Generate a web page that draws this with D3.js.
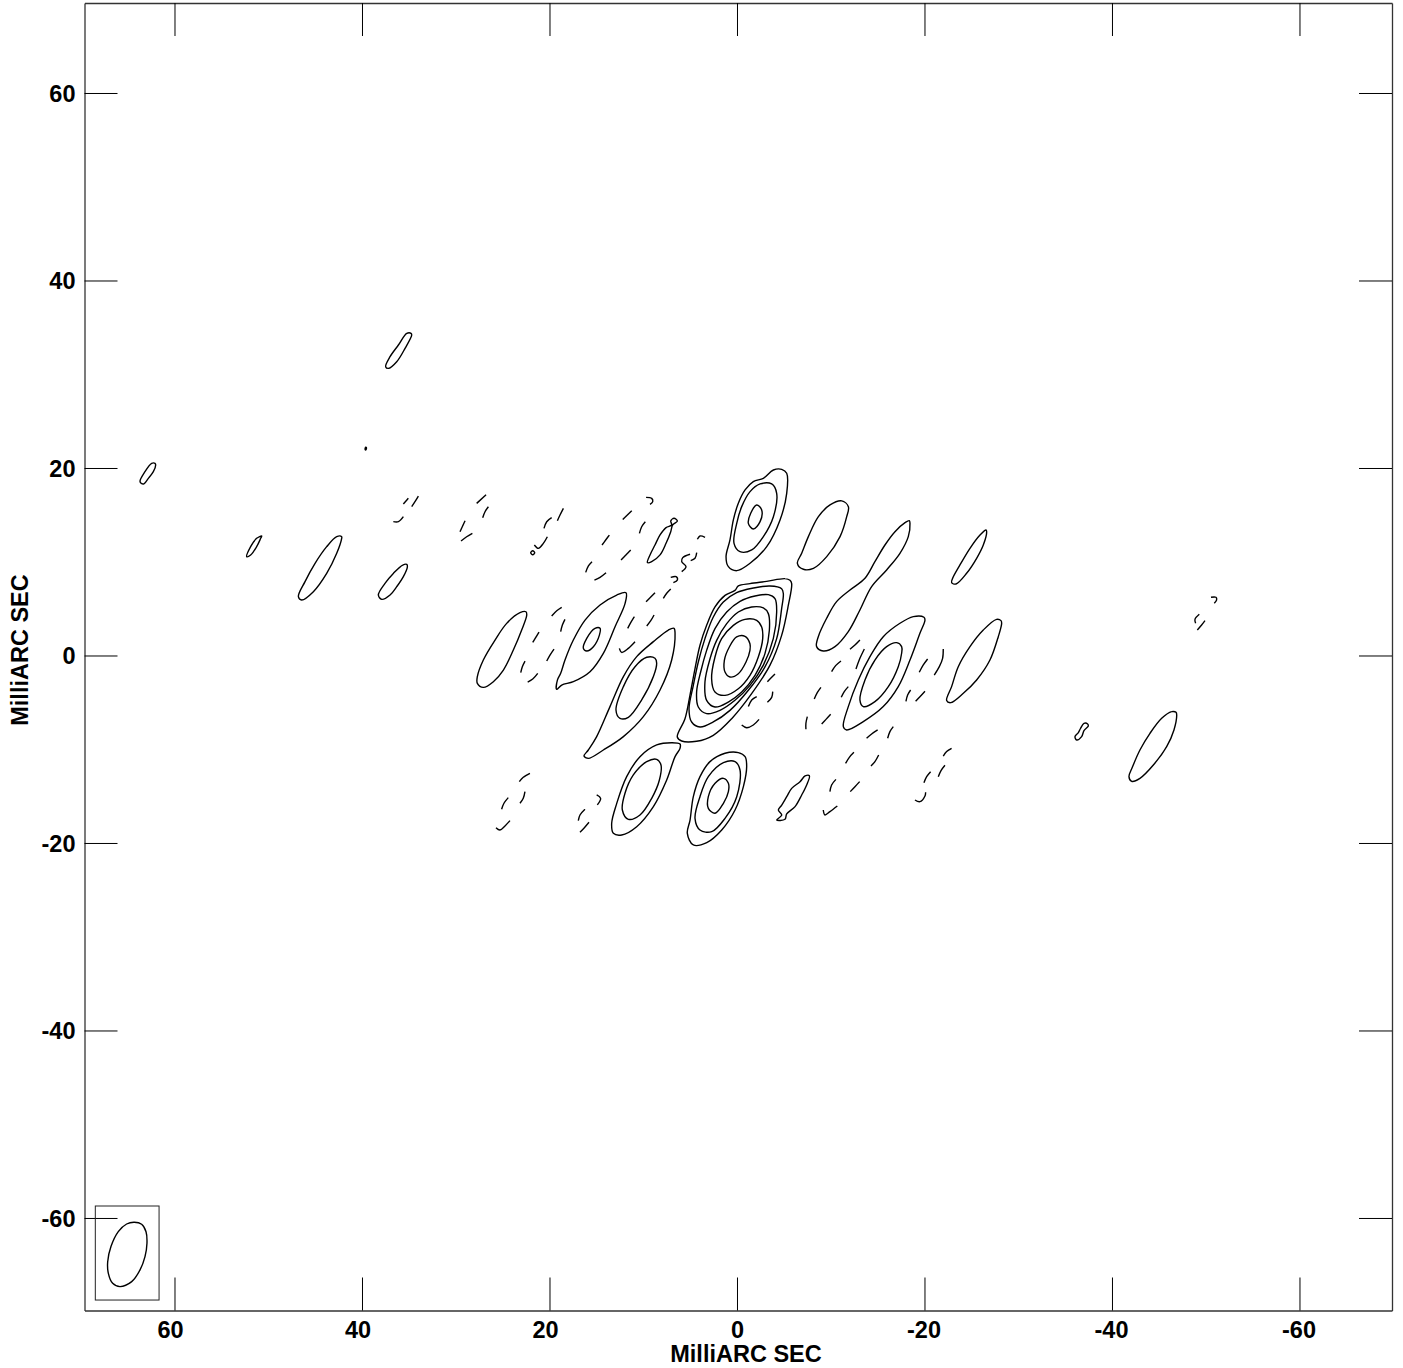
<!DOCTYPE html>
<html>
<head>
<meta charset="utf-8">
<title>MilliARC SEC contour map</title>
<script src="https://d3js.org/d3.v7.min.js"></script>
<style>
    html, body { margin: 0; padding: 0; background: #fff; }
    svg { display: block; }
    .contour { fill: none; stroke: #000; stroke-width: 1.4; stroke-linejoin: round; }
    .axis text, .axisLabel { font-family: "Liberation Sans", Arial, sans-serif; font-weight: bold; font-size: 23.5px; fill: #000; }
</style>
</head>
<body>
<div id="map"></div>
<script>
// Axis values (milliarcsec)
var xDomain = [69.6, -69.87];
var yDomain = [69.6, -69.87];
var tickValues = [60, 40, 20, 0, -20, -40, -60];
var tickLabels = ["60", "40", "20", "0", "-20", "-40", "-60"];
var axisTitle = "MilliARC SEC";

// Positive contours, closed rings of [x, y] in milliarcsec
var centralPeak = [
    [[-5.6,8.07],[-5.07,8.25],[-3.11,7.96],[-1.33,7.72],[-0.09,7.47],[0.27,7.0],[1.33,6.47],[2.4,5.23],[3.29,3.27],[4.0,1.14],[4.53,-1.35],[5.07,-4.2],[5.6,-6.69],[6.42,-8.64],[5.96,-9.07],[4.36,-9.1],[2.58,-8.46],[0.62,-6.69],[-1.51,-4.02],[-3.47,-0.98],[-4.71,2.2],[-5.42,5.4],[-5.78,7.72]],
    [[-4.71,7.18],[-3.47,7.47],[-1.69,7.25],[0.09,6.76],[1.51,5.76],[2.58,4.16],[3.47,1.85],[4.18,-0.64],[4.71,-3.13],[5.17,-5.62],[4.89,-7.04],[4.0,-7.58],[2.58,-7.04],[0.8,-5.8],[-1.16,-3.66],[-2.93,-1.17],[-4.18,1.85],[-4.71,5.05],[-4.89,6.65]],
    [[-4.0,6.12],[-3.29,6.54],[-1.87,6.4],[-0.27,5.83],[1.15,4.69],[2.4,2.92],[3.29,0.6],[3.93,-1.71],[4.36,-3.84],[4.18,-5.44],[3.29,-6.15],[1.87,-5.8],[0.27,-4.73],[-1.33,-3.13],[-2.76,-0.98],[-3.82,1.85],[-4.18,4.69]],
    [[-3.29,4.52],[-2.76,5.12],[-1.51,5.23],[-0.09,4.69],[1.15,3.45],[2.22,1.67],[2.93,-0.29],[3.47,-2.77],[3.29,-4.73],[2.4,-5.44],[0.98,-4.91],[-0.45,-3.84],[-1.87,-2.06],[-2.93,0.25],[-3.4,2.74]],
    [[-2.58,3.09],[-2.05,3.8],[-0.8,3.91],[0.44,3.27],[1.69,1.85],[2.4,-0.11],[2.76,-2.42],[2.4,-3.84],[1.33,-4.2],[-0.09,-3.49],[-1.33,-2.06],[-2.22,-0.11],[-2.69,1.85]],
    [[-1.33,1.31],[-0.8,2.1],[0.09,2.03],[0.87,0.96],[1.4,-0.46],[1.33,-1.71],[0.8,-2.24],[-0.09,-1.89],[-0.91,-0.64],[-1.33,0.6]]
];

var upperLobe = [
    [[-5.25,19.49],[-4.72,19.91],[-3.83,19.84],[-2.76,18.95],[-1.69,18.6],[-0.81,17.71],[-0.09,16.29],[0.44,14.51],[0.8,12.38],[1.22,10.6],[0.97,9.53],[0.08,9.1],[-1.34,9.89],[-3.12,11.66],[-4.54,14.51],[-5.25,17.35]],
    [[-4.18,17.35],[-3.65,18.35],[-2.41,18.35],[-1.34,17.53],[-0.45,15.93],[0.08,14.15],[0.37,12.02],[-0.27,11.13],[-1.52,11.31],[-2.76,12.73],[-3.83,14.86]],
    [[-2.58,15.58],[-2.05,16.11],[-1.41,15.22],[-1.16,14.15],[-1.69,13.55],[-2.41,14.33]]
];

var lowerLobes = [
    [[6.13,-9.39],[7.02,-9.25],[8.62,-9.49],[10.4,-10.74],[11.82,-12.87],[12.88,-15.72],[13.42,-17.85],[13.24,-18.92],[12.35,-19.1],[10.75,-18.21],[8.97,-16.07],[7.55,-13.23],[6.66,-10.74],[6.13,-9.85]],
    [[8.16,-11.63],[8.62,-11.02],[9.68,-11.27],[11.11,-12.69],[12.0,-14.65],[12.28,-16.43],[11.64,-17.42],[10.4,-16.96],[9.15,-15.18],[8.33,-13.23]],
    [[-0.81,-10.74],[-0.09,-10.31],[1.33,-10.38],[2.93,-11.27],[4.0,-12.87],[4.71,-15.01],[5.06,-17.5],[5.35,-18.92],[4.71,-20.16],[3.28,-19.91],[1.68,-18.56],[0.26,-16.43],[-0.63,-13.94],[-0.98,-11.8]],
    [[-0.27,-12.16],[0.26,-11.27],[1.5,-11.38],[3.11,-12.87],[4.0,-15.01],[4.53,-17.32],[4.0,-18.56],[2.75,-18.74],[1.33,-17.32],[0.08,-15.01]],
    [[0.97,-13.58],[1.5,-13.05],[2.39,-13.58],[3.11,-15.01],[3.11,-16.25],[2.39,-16.78],[1.5,-15.72],[0.97,-14.47]]
];

var leftLobes = [
    [[6.77,2.95],[7.37,2.77],[8.97,1.53],[10.75,-0.07],[12.17,-2.2],[13.6,-5.4],[15.02,-8.6],[15.91,-10.03],[16.37,-10.67],[15.91,-10.92],[14.31,-10.03],[12.17,-8.6],[10.04,-6.47],[8.26,-3.63],[7.02,-0.43],[6.66,2.42]],
    [[8.8,-0.25],[9.68,-0.14],[10.93,-1.14],[12.17,-3.27],[12.96,-5.76],[12.53,-6.65],[11.64,-6.54],[10.22,-4.69],[8.97,-2.2],[8.62,-0.78]],
    [[11.89,6.75],[12.88,6.5],[14.66,5.44],[16.26,3.83],[17.51,1.7],[18.4,-0.43],[18.86,-1.85],[19.21,-2.57],[19.29,-3.56],[18.75,-3.1],[17.51,-2.74],[15.73,-1.68],[14.31,0.28],[13.06,3.12],[11.99,5.61]],
    [[14.66,2.95],[15.2,2.95],[16.08,1.88],[16.44,0.81],[16.08,0.53],[15.37,0.99],[14.73,2.23]],
    [[22.56,4.72],[23.2,4.62],[24.62,3.48],[25.86,1.7],[27.11,-0.43],[27.75,-2.21],[27.75,-2.92],[27.11,-3.35],[26.04,-2.74],[24.97,-1.5],[23.91,0.63],[23.02,2.77],[22.48,4.37]],
    [[6.41,14.4],[6.77,14.69],[7.12,14.4],[7.02,13.98],[7.62,13.69],[8.26,12.91],[8.8,11.84],[9.33,10.78],[9.61,9.96],[9.15,10.06],[8.26,10.78],[7.62,12.02],[7.12,13.26],[6.91,13.98]]
];

var rightLobes = [
    [[-11.83,15.93],[-11.12,16.54],[-9.87,16.11],[-8.63,14.86],[-7.56,12.73],[-6.85,10.95],[-6.39,9.89],[-7.03,9.25],[-8.1,9.35],[-9.52,10.6],[-10.94,12.73],[-11.65,14.86]],
    [[-18.33,14.44],[-17.87,14.22],[-16.8,13.26],[-15.73,11.84],[-14.66,10.06],[-13.6,8.29],[-12.0,7.04],[-10.57,5.8],[-9.51,4.02],[-8.62,2.06],[-8.44,1.0],[-9.15,0.53],[-10.4,1.0],[-11.82,2.6],[-13.06,4.91],[-14.31,7.4],[-15.91,9.18],[-17.33,10.95],[-18.22,12.73],[-18.4,14.15]],
    [[-26.51,13.44],[-25.87,12.91],[-24.8,11.49],[-23.73,9.71],[-22.95,8.29],[-22.84,7.82],[-23.31,7.68],[-24.44,8.82],[-25.51,10.42],[-26.22,11.84],[-26.58,13.26]],
    [[-19.89,4.13],[-18.75,4.2],[-17.33,3.49],[-15.55,2.06],[-14.13,-0.07],[-12.89,-2.56],[-11.82,-5.4],[-11.29,-7.54],[-11.64,-7.89],[-13.42,-7.0],[-15.55,-5.4],[-17.15,-3.27],[-18.4,-0.43],[-19.46,2.42],[-20.0,3.84]],
    [[-17.51,1.0],[-16.98,1.42],[-15.91,1.0],[-14.66,-0.43],[-13.6,-2.56],[-13.06,-4.69],[-13.42,-5.4],[-14.66,-4.87],[-16.09,-3.27],[-17.15,-1.14],[-17.51,0.29]],
    [[-28.11,3.77],[-27.64,3.91],[-26.22,2.77],[-24.8,1.0],[-23.55,-1.14],[-22.84,-3.27],[-22.31,-4.76],[-22.74,-4.98],[-24.09,-3.98],[-25.51,-2.56],[-26.93,-0.43],[-27.82,2.06],[-28.18,3.49]],
    [[-7.67,-12.77],[-7.21,-12.8],[-6.67,-13.41],[-5.78,-14.12],[-5.25,-15.01],[-4.72,-15.9],[-4.36,-16.43],[-4.72,-16.96],[-4.18,-17.5],[-5.07,-17.42],[-5.25,-16.85],[-6.14,-16.07],[-6.85,-14.83],[-7.38,-13.76]]
];

var outerLobes = [
    [[34.82,34.42],[35.28,34.42],[36.17,33.17],[37.06,31.93],[37.53,30.86],[37.24,30.68],[36.35,31.39],[35.46,32.82],[34.75,34.24]],
    [[39.72,22.02],[39.66,22.28],[39.58,22.22],[39.64,21.98]],
    [[62.13,20.55],[62.49,20.55],[63.2,19.66],[63.73,18.59],[63.38,18.35],[62.84,18.95],[62.31,19.66],[62.06,20.37]],
    [[50.75,12.8],[51.29,12.55],[51.93,11.66],[52.35,10.59],[51.93,10.77],[51.29,11.66],[50.86,12.55]],
    [[42.22,12.73],[42.75,12.73],[43.82,11.66],[45.06,9.88],[46.13,7.93],[46.84,6.32],[46.49,5.97],[45.24,6.86],[43.82,8.81],[42.75,10.95],[42.22,12.55]],
    [[35.28,9.77],[35.71,9.7],[36.71,8.81],[37.6,7.75],[38.31,6.5],[37.95,6.04],[37.06,6.5],[36.35,7.39],[35.64,8.46],[35.21,9.52]],
    [[22.06,11.02],[21.84,11.23],[21.63,11.02],[21.84,10.8]],
    [[-46.78,-6.01],[-46.31,-5.94],[-45.25,-6.65],[-44.0,-8.25],[-42.93,-10.03],[-42.15,-11.8],[-41.76,-12.87],[-42.05,-13.37],[-42.93,-13.05],[-44.36,-11.63],[-45.78,-9.67],[-46.56,-7.89],[-46.85,-6.29]],
    [[-37.35,-7.25],[-36.96,-7.18],[-36.6,-7.71],[-36.36,-8.18],[-36.0,-8.6],[-36.18,-8.96],[-36.71,-8.6],[-36.96,-7.96],[-37.42,-7.47]]
];

// Negative contours, short open dashes
var dashesLeft = [
    [[27.82,16.28],[26.82,17.2]],
    [[27.18,14.75],[26.93,15.39],[26.57,15.92]],
    [[29.6,13.26],[29.06,14.43]],
    [[29.49,12.26],[28.89,12.72],[28.28,13.08]],
    [[21.67,11.84],[21.24,11.48],[20.71,12.01],[20.28,12.72]],
    [[20.64,13.61],[20.35,14.32],[19.82,14.75]],
    [[19.21,14.43],[18.93,15.04],[18.57,15.75]],
    [[12.24,14.57],[11.28,15.5]],
    [[10.46,13.08],[10.22,13.79],[9.83,14.32]],
    [[9.75,16.92],[9.15,16.81],[9.04,16.46],[9.33,16.17]],
    [[14.45,11.84],[14.06,12.37],[13.67,12.9]],
    [[12.42,10.24],[11.39,11.3]],
    [[16.19,8.92],[15.9,9.6],[15.52,10.06]],
    [[15.26,8.1],[14.66,8.39],[14.02,8.88]],
    [[19.82,4.26],[19.28,4.83],[18.75,5.19]],
    [[18.86,2.59],[18.68,3.3],[18.4,3.91]],
    [[21.84,1.45],[21.17,2.55]],
    [[20.35,-0.54],[20.0,0.1],[19.57,0.74]],
    [[23.12,-1.78],[22.95,-1.14],[22.66,-0.54]],
    [[22.38,-2.78],[21.84,-2.46],[21.31,-1.85]],
    [[9.75,5.79],[8.8,6.75]],
    [[11.71,2.95],[11.39,3.55],[11.0,4.19]],
    [[9.68,3.2],[9.25,3.76],[8.9,4.37]],
    [[12.6,0.81],[12.35,0.38],[11.64,0.81],[10.93,1.52]],
    [[5.06,10.85],[5.84,10.49],[5.95,10.06],[5.49,9.53],[5.95,9.0]],
    [[4.99,10.17],[4.53,10.42],[4.35,11.02]],
    [[4.28,12.45],[4.0,12.8],[3.46,12.66]],
    [[7.12,8.39],[6.55,8.46],[6.41,8.11],[6.84,7.82]],
    [[7.91,6.15],[7.55,6.69],[7.12,7.15]],
    [[35.64,16.21],[35.11,16.82]],
    [[34.75,15.93],[34.4,16.46],[34.04,17.06]],
    [[36.71,14.33],[36.17,14.33],[35.64,14.86]],
    [[23.27,-13.4],[22.85,-12.94],[22.14,-12.51]],
    [[23.2,-15.71],[22.85,-15.18],[22.67,-14.47]],
    [[25.16,-16.35],[24.91,-15.71],[24.45,-15.11]],
    [[25.76,-18.31],[25.34,-18.56],[24.8,-18.13],[24.27,-17.56]],
    [[16.98,-17.56],[16.8,-16.96],[16.27,-16.35]],
    [[16.8,-18.81],[16.38,-18.38],[15.84,-17.74]],
    [[15.02,-14.82],[14.6,-15.18],[14.95,-15.89]]
];

var dashesRight = [
    [[-3.19,-2.74],[-3.54,-2.38],[-4.0,-1.92]],
    [[-1.16,-5.4],[-1.52,-4.69],[-2.05,-4.34]],
    [[-3.19,-4.94],[-3.65,-4.41],[-3.76,-3.8]],
    [[-0.45,-7.36],[-0.98,-7.65],[-1.69,-7.36],[-2.3,-6.76]],
    [[-12.0,0.71],[-12.53,1.17],[-13.06,1.71]],
    [[-12.64,-1.39],[-13.06,-0.25],[-13.53,0.75]],
    [[-10.04,-1.67],[-10.47,-1.03],[-11.04,-0.53]],
    [[-8.19,-4.59],[-8.51,-3.91],[-8.9,-3.34]],
    [[-11.07,-4.41],[-11.39,-3.8],[-11.82,-3.27]],
    [[-7.3,-7.82],[-7.3,-7.18],[-7.45,-6.47]],
    [[-8.98,-7.25],[-9.44,-6.76],[-9.94,-6.22]],
    [[-19.39,-1.74],[-19.82,-0.96],[-20.28,-0.32]],
    [[-20.99,-2.03],[-21.53,-1.14],[-21.88,-0.25],[-21.95,0.75]],
    [[-17.97,-4.83],[-18.15,-4.16],[-18.47,-3.63]],
    [[-19.0,-4.83],[-19.46,-4.34],[-20.0,-3.77]],
    [[-13.77,-8.78],[-14.31,-8.32],[-14.95,-7.89]],
    [[-16.02,-8.78],[-16.26,-8.07],[-16.62,-7.54]],
    [[-11.53,-11.45],[-11.93,-10.81],[-12.42,-10.28]],
    [[-14.24,-11.73],[-14.66,-11.27],[-15.06,-10.56]],
    [[-9.86,-14.47],[-10.04,-13.76],[-10.5,-13.16]],
    [[-12.03,-14.47],[-12.53,-13.94],[-13.03,-13.4]],
    [[-9.15,-16.43],[-9.33,-16.96],[-9.86,-16.6],[-10.65,-16.0]],
    [[-18.93,-15.36],[-19.46,-15.54],[-20.0,-14.93],[-20.07,-14.54]],
    [[-19.89,-13.51],[-20.18,-12.87],[-20.6,-12.34]],
    [[-21.42,-12.87],[-21.71,-12.23],[-22.13,-11.66]],
    [[-21.95,-10.67],[-22.31,-10.2],[-22.84,-9.85]],
    [[-50.51,6.26],[-51.04,6.26],[-51.11,5.98],[-50.86,5.62]],
    [[-48.87,3.49],[-48.8,3.91],[-49.26,4.45]],
    [[-49.05,2.78],[-49.51,3.31],[-49.87,3.77]]
];

// Beam ellipse and its box, bottom left corner
var beamOutline = [[64.34,-60.41],[63.56,-60.62],[63.09,-61.41],[62.99,-62.65],[63.2,-64.07],[63.73,-65.49],[64.62,-66.74],[65.87,-67.27],[66.65,-66.92],[67.11,-65.85],[67.18,-64.61],[66.83,-63.0],[66.05,-61.41],[65.16,-60.59]];
var beamBox = { x0: 68.5, x1: 61.7, y0: -58.67, y1: -68.7 };

// Setting svg chart area
var margin = {left:84.5, right:11, top:3, bottom:57.5};

var width = 1403 - margin.left - margin.right,
    height = 1368 - margin.top - margin.bottom;

var svg = d3.select("#map")
    .append("svg")
        .attr("width", 1403)
        .attr("height", 1368);

var chartGroup = svg.append("g")
    .attr("transform", `translate(${margin.left}, ${margin.top})`);

var xScale = d3.scaleLinear().domain(xDomain).range([0, width]);
var yScale = d3.scaleLinear().domain(yDomain).range([0, height]);

// Ticks point inward on all four sides, only bottom and left get labels
var tickLength = 33;

function tickText(d) {
    return tickLabels[tickValues.indexOf(d)];
}

var bottomAxis = chartGroup.append("g")
    .attr("class", "axis")
    .attr("transform", `translate(0, ${height})`)
    .call(d3.axisBottom(xScale).tickValues(tickValues).tickSize(-tickLength).tickSizeOuter(0).tickPadding(10.5).tickFormat(tickText));

// the bottom labels sit a little left of their ticks in the original
bottomAxis.selectAll("text")
    .attr("dx", d => d > 0 ? -4.5 : (d < 0 ? -1 : 0));

var leftAxis = chartGroup.append("g")
    .attr("class", "axis")
    .call(d3.axisLeft(yScale).tickValues(tickValues).tickSize(-tickLength).tickSizeOuter(0).tickPadding(9).tickFormat(tickText));

leftAxis.selectAll("text")
    .attr("dy", "0.35em");

chartGroup.append("g")
    .attr("class", "axis")
    .call(d3.axisTop(xScale).tickValues(tickValues).tickSize(-tickLength).tickSizeOuter(0).tickFormat(""));

chartGroup.append("g")
    .attr("class", "axis")
    .attr("transform", `translate(${width}, 0)`)
    .call(d3.axisRight(yScale).tickValues(tickValues).tickSize(-tickLength).tickSizeOuter(0).tickFormat(""));

chartGroup.selectAll(".axis .domain").attr("stroke", "#333").attr("stroke-width", 1.3);

// Axis titles
svg.append("text")
    .attr("class", "axisLabel")
    .attr("text-anchor", "middle")
    .attr("x", 746)
    .attr("y", 1362)
    .text(axisTitle);

svg.append("text")
    .attr("class", "axisLabel")
    .attr("text-anchor", "middle")
    .attr("transform", `translate(28, 650) rotate(-90)`)
    .text(axisTitle);

// Contours
var ringLine = d3.line()
    .x(d => xScale(d[0]))
    .y(d => yScale(d[1]))
    .curve(d3.curveCatmullRomClosed.alpha(0.5));

var dashLine = d3.line()
    .x(d => xScale(d[0]))
    .y(d => yScale(d[1]))
    .curve(d3.curveCatmullRom.alpha(0.5));

var rings = [].concat(centralPeak, upperLobe, lowerLobes, leftLobes, rightLobes, outerLobes, [beamOutline]);
var dashes = [].concat(dashesLeft, dashesRight);

// half pixel shift so the marks line up with the axis ticks
var contourGroup = chartGroup.append("g")
    .attr("transform", "translate(0.5, 0.5)");

contourGroup.selectAll("path.ring")
    .data(rings)
    .enter()
    .append("path")
    .attr("class", "ring contour")
    .attr("d", ringLine);

contourGroup.selectAll("path.dash")
    .data(dashes)
    .enter()
    .append("path")
    .attr("class", "dash contour")
    .attr("d", dashLine);

// Beam box
contourGroup.append("rect")
    .attr("x", xScale(beamBox.x0))
    .attr("y", yScale(beamBox.y0))
    .attr("width", xScale(beamBox.x1) - xScale(beamBox.x0))
    .attr("height", yScale(beamBox.y1) - yScale(beamBox.y0))
    .attr("fill", "none")
    .attr("stroke", "#222")
    .attr("stroke-width", 1);
</script>
</body>
</html>
